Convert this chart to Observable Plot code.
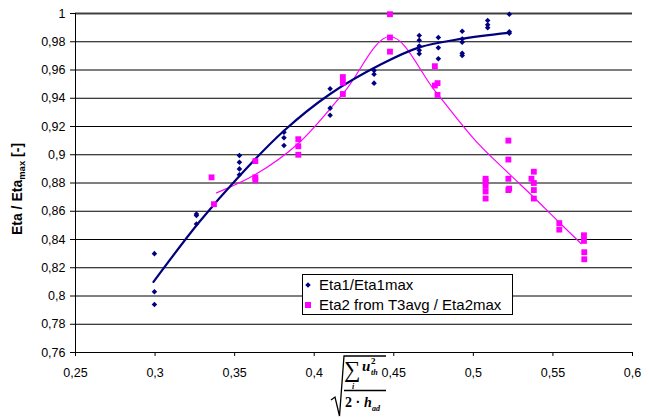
<!DOCTYPE html>
<html>
<head>
<meta charset="utf-8">
<script src="https://cdn.jsdelivr.net/npm/d3@7"></script>
<script src="https://cdn.jsdelivr.net/npm/@observablehq/plot@0.6"></script>
<style>
  html, body { margin: 0; padding: 0; background: #fff; }
  #chart { position: relative; width: 649px; height: 418px; }
</style>
</head>
<body>
<div id="chart"></div>
<script>
// ---- Data ----
const xTicks = [0.25, 0.3, 0.35, 0.4, 0.45, 0.5, 0.55, 0.6];
const yTicks = [0.76, 0.78, 0.8, 0.82, 0.84, 0.86, 0.88, 0.9, 0.92, 0.94, 0.96, 0.98, 1];

// Eta1/Eta1max points
const eta1X = [0.2996, 0.2996, 0.2996,
  0.326, 0.326, 0.326,
  0.353, 0.353, 0.353, 0.353,
  0.381, 0.381, 0.381,
  0.410, 0.410, 0.410,
  0.4376, 0.4376, 0.4376,
  0.466, 0.466, 0.466, 0.466, 0.466,
  0.478, 0.478, 0.478,
  0.493, 0.493, 0.493, 0.493, 0.493,
  0.509, 0.509, 0.509,
  0.5226, 0.5226, 0.5226];
const eta1Y = [0.830, 0.803, 0.794,
  0.858, 0.857, 0.851,
  0.8995, 0.8947, 0.890, 0.8858,
  0.916, 0.912, 0.9065,
  0.9467, 0.933, 0.928,
  0.9596, 0.957, 0.9507,
  0.9844, 0.981, 0.977, 0.974, 0.9715,
  0.983, 0.9757, 0.968,
  0.9875, 0.982, 0.9797, 0.9719, 0.9703,
  0.995, 0.992, 0.990,
  0.9995, 0.987, 0.986];

// Eta2 from T3avg / Eta2max points
const eta2X = [0.3355, 0.337,
  0.363, 0.363, 0.363,
  0.390, 0.390, 0.390,
  0.418, 0.418, 0.418,
  0.4476, 0.4476, 0.4476,
  0.4758, 0.4775, 0.4758, 0.4775,
  0.5077, 0.5077, 0.5077, 0.5077, 0.5077,
  0.522, 0.522, 0.522, 0.522, 0.5225,
  0.5365, 0.538, 0.538, 0.538, 0.538,
  0.554, 0.554,
  0.5695, 0.5695, 0.5697, 0.5697];
const eta2Y = [0.884, 0.865,
  0.8955, 0.884, 0.882,
  0.911, 0.906, 0.900,
  0.955, 0.951, 0.943,
  0.9995, 0.983, 0.973,
  0.9627, 0.9507, 0.949, 0.9424,
  0.883, 0.881, 0.878, 0.874, 0.869,
  0.910, 0.8966, 0.883, 0.875, 0.876,
  0.883, 0.888, 0.880, 0.875, 0.869,
  0.8516, 0.847,
  0.843, 0.839, 0.831, 0.826];

// Trend line of Eta1
const trend1X = [0.299, 0.3275, 0.353, 0.381, 0.410, 0.442, 0.466, 0.492, 0.522];
const trend1Y = [0.810, 0.852, 0.885, 0.917, 0.943, 0.964, 0.976, 0.982, 0.9863];

// Line of Eta2
const trend2X = [0.3386, 0.363, 0.390, 0.4186, 0.4476, 0.476, 0.5013, 0.522, 0.537, 0.554, 0.5678];
const trend2Y = [0.873, 0.886, 0.908, 0.944, 0.9837, 0.945, 0.910, 0.887, 0.871, 0.852, 0.837];

const series1Name = "Eta1/Eta1max";
const series2Name = "Eta2 from T3avg / Eta2max";

// ---- Build tables ----
const eta1 = eta1X.map((x, i) => ({x, y: eta1Y[i]}));
const eta2 = eta2X.map((x, i) => ({x, y: eta2Y[i]}));
const trend1 = trend1X.map((x, i) => ({x, y: trend1Y[i]}));
const trend2 = trend2X.map((x, i) => ({x, y: trend2Y[i]}));

const fmt = d => String(+d.toFixed(2)).replace(".", ",");
const NAVY = "#000080", MAG = "#ff00ff";
const FONT = "'Liberation Sans', Arial, sans-serif";

const plot = Plot.plot({
  width: 649,
  height: 418,
  marginLeft: 75,
  marginRight: 17,
  marginTop: 13,
  marginBottom: 66,
  style: {fontFamily: FONT, fontSize: "12.5px", color: "#000", background: "#fff", overflow: "visible"},
  x: {domain: [0.25, 0.6]},
  y: {domain: [0.76, 1]},
  marks: [
    Plot.ruleY(yTicks.filter(d => d < 1), {stroke: "#000", strokeWidth: 1}),
    Plot.ruleY([1], {stroke: "#404040", strokeWidth: 2}),
    Plot.ruleX([0.25], {stroke: "#000", strokeWidth: 1}),
    Plot.axisY({ticks: yTicks, tickSize: 5, tickPadding: 5, tickFormat: fmt, label: null, fontSize: 12.5, stroke: "#000"}),
    Plot.axisX({ticks: xTicks, tickSize: 4, tickPadding: 12, tickFormat: fmt, label: null, fontSize: 12.5, stroke: "#000"}),
    Plot.line(trend2, {x: "x", y: "y", stroke: MAG, strokeWidth: 1.2, curve: "catmull-rom"}),
    Plot.line(trend1, {x: "x", y: "y", stroke: NAVY, strokeWidth: 2.2, curve: "catmull-rom"}),
    Plot.dot(eta2, {x: "x", y: "y", symbol: "square", fill: MAG, r: 3.3, stroke: "none"}),
    Plot.dot(eta1, {x: "x", y: "y", symbol: "diamond2", fill: NAVY, r: 2.5, stroke: "none"})
  ]
});

document.getElementById("chart").appendChild(plot);

const svg = d3.select(plot);

// Y axis title
const yt = svg.append("text")
  .attr("transform", "translate(22,189) rotate(-90)")
  .attr("text-anchor", "middle")
  .attr("font-family", FONT)
  .attr("font-weight", "bold")
  .attr("font-size", 14)
  .attr("fill", "#000");
yt.append("tspan").text("Eta / Eta");
yt.append("tspan").attr("font-size", 9.5).attr("dy", 3).text("max");
yt.append("tspan").attr("dy", -3).text(" [-]");

// X axis title: formula sqrt( sum_i u_th^2 / (2 * h_ad) )
const f = svg.append("g").attr("text-anchor", "start")
  .attr("font-family", "'Liberation Serif', 'DejaVu Serif', serif").attr("font-weight", "bold").attr("fill", "#000");
f.append("path").attr("d", "M331,400 L335,397 L339.5,416 L344,356 L386,356")
  .attr("fill", "none").attr("stroke", "#000").attr("stroke-width", 1.3);
f.append("text").attr("x", 344).attr("y", 377).attr("font-size", 23).attr("font-weight", "normal").text("∑");
f.append("text").attr("x", 352).attr("y", 388.5).attr("font-size", 8).attr("font-style", "italic").text("i");
f.append("text").attr("x", 362).attr("y", 371).attr("font-size", 15).attr("font-style", "italic").text("u");
f.append("text").attr("x", 371).attr("y", 364).attr("font-size", 9).text("2");
f.append("text").attr("x", 371).attr("y", 375).attr("font-size", 8).attr("font-style", "italic").text("th");
f.append("line").attr("x1", 344).attr("x2", 386).attr("y1", 390.5).attr("y2", 390.5).attr("stroke", "#000").attr("stroke-width", 1.3);
f.append("text").attr("x", 345).attr("y", 407).attr("font-size", 14).text("2 ·");
f.append("text").attr("x", 364).attr("y", 407).attr("font-size", 14).attr("font-style", "italic").text("h");
f.append("text").attr("x", 372).attr("y", 411).attr("font-size", 8).attr("font-style", "italic").text("ad");

// Legend
const lg = svg.append("g").attr("text-anchor", "start").attr("font-family", FONT).attr("font-size", 15).attr("fill", "#000");
lg.append("rect").attr("x", 302.5).attr("y", 274.5).attr("width", 210).attr("height", 40)
  .attr("fill", "#fff").attr("stroke", "#000").attr("stroke-width", 1);
lg.append("path").attr("d", d3.symbol(d3.symbolDiamond2, 2.5 * 2.5 * Math.PI)()).attr("transform", "translate(308,285)").attr("fill", NAVY);
lg.append("rect").attr("x", 305).attr("y", 302).attr("width", 6).attr("height", 6).attr("fill", MAG);
lg.append("text").attr("x", 319).attr("y", 290).text(series1Name);
lg.append("text").attr("x", 319).attr("y", 310).text(series2Name);
</script>
</body>
</html>
